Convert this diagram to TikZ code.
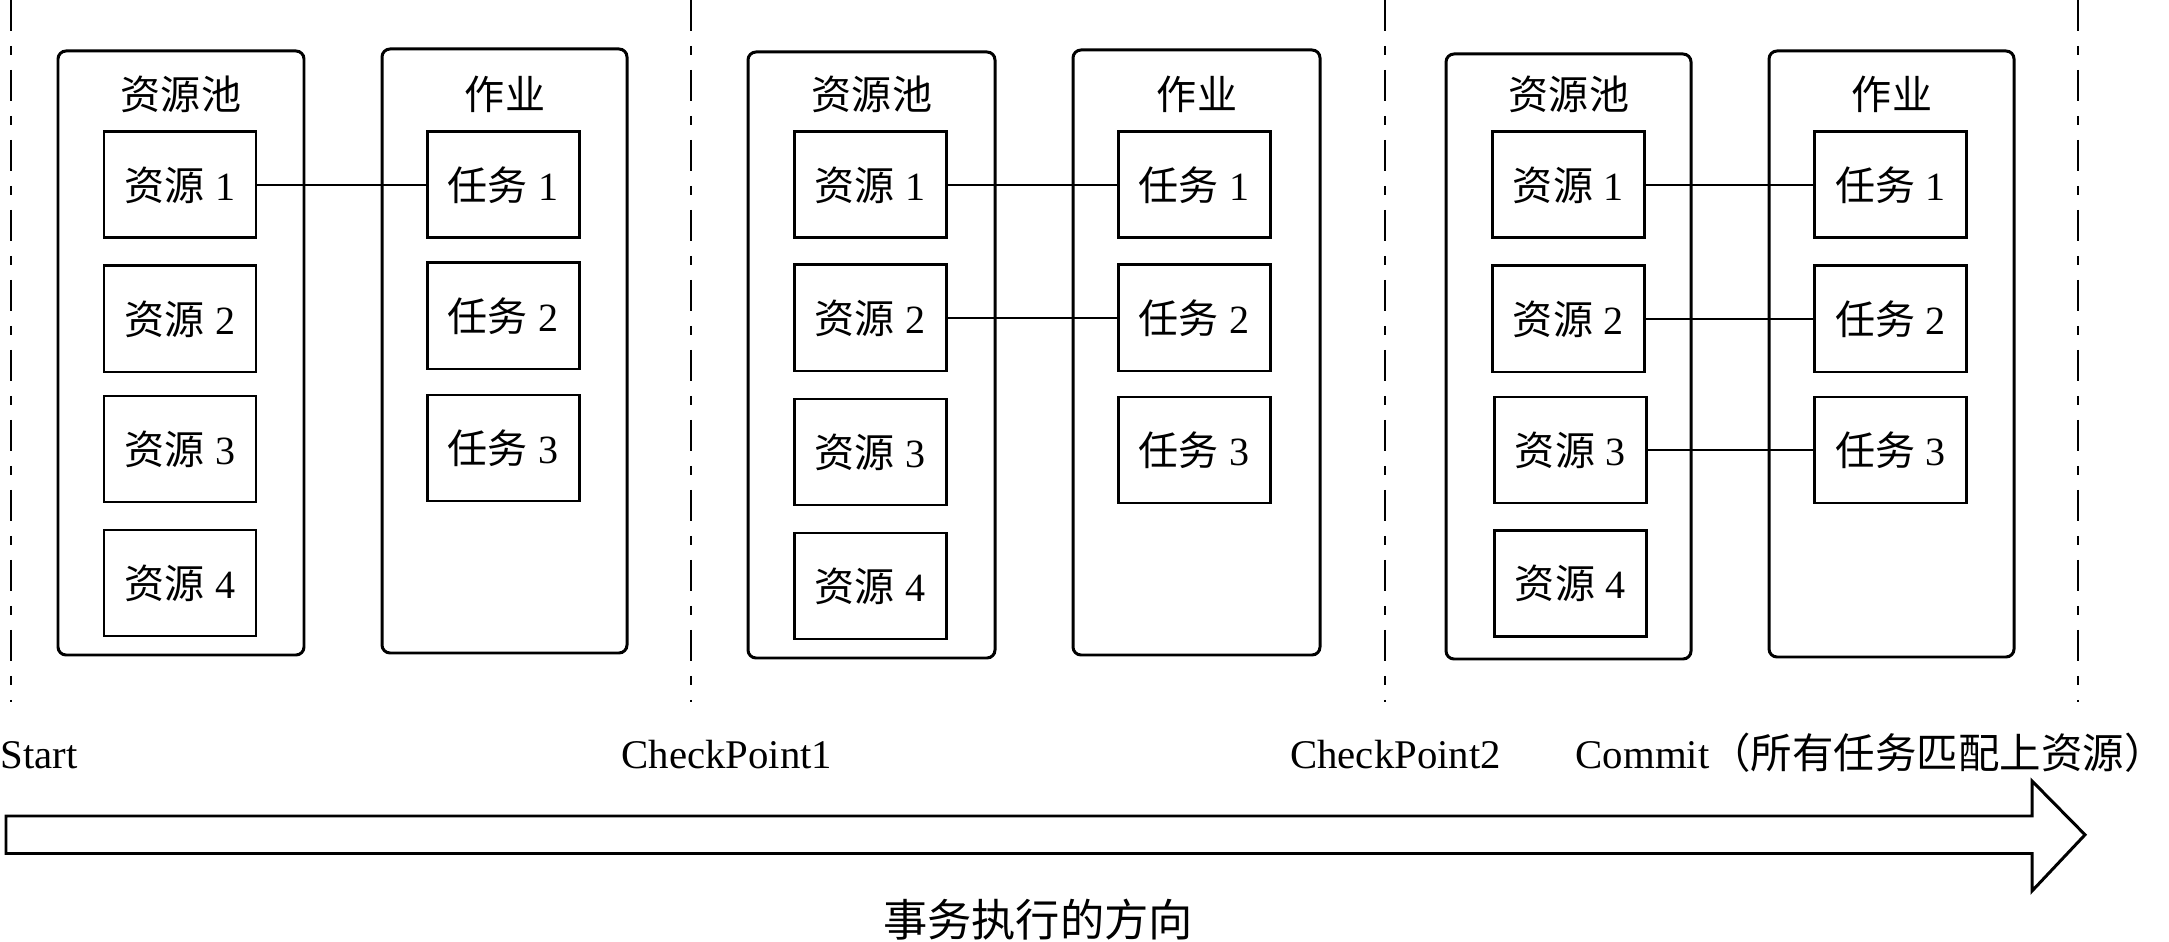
\documentclass[tikz,border=0pt]{standalone}
\usepackage{fontspec}
\setmainfont{Liberation Serif}
\newfontfamily\cjk{Noto Sans CJK SC}

\tikzset{
    box/.style={draw, line width=0.85pt, minimum width=1.52cm, minimum height=1.06cm, inner sep=0pt, font=\fontsize{11.4}{13}\selectfont},
    pool/.style={draw, line width=0.85pt, rounded corners=0.08cm},
    title/.style={inner sep=0pt, font=\fontsize{11.4}{13}\selectfont},
    link/.style={line width=0.6pt},
    cutline/.style={line width=0.6pt, dash pattern=on 0.31cm off 0.15cm on 0.09cm off 0.15cm},
    tag/.style={inner sep=0pt, font=\fontsize{11.6}{13}\selectfont}
}

\begin{document}
\begin{tikzpicture}
        \useasboundingbox (0,0) rectangle (21.69,9.41);

        \coordinate (CT0) at (0.11,9.41);
        \coordinate (CB0) at (0.11,2.39);
        \draw[cutline] (CT0) -- (CB0);
        \coordinate (CT1) at (6.91,9.41);
        \coordinate (CB1) at (6.91,2.39);
        \draw[cutline] (CT1) -- (CB1);
        \coordinate (CT2) at (13.85,9.41);
        \coordinate (CB2) at (13.85,2.39);
        \draw[cutline] (CT2) -- (CB2);
        \coordinate (CT3) at (20.78,9.41);
        \coordinate (CB3) at (20.78,2.39);
        \draw[cutline] (CT3) -- (CB3);

        % Start
        \coordinate (PB1) at (0.58,2.86);
        \coordinate (PT1) at (3.04,8.90);
        \draw[pool] (PB1) rectangle (PT1);
        \coordinate (JB1) at (3.82,2.88);
        \coordinate (JT1) at (6.27,8.92);
        \draw[pool] (JB1) rectangle (JT1);
        \node[title] (P1) at (1.81,8.47) {\cjk 资源池};
        \node[title] (J1) at (5.05,8.47) {\cjk 作业};
        \node[box] (R11) at (1.80,7.56) {{\cjk 资源} 1};
        \node[box] (R12) at (1.80,6.22) {{\cjk 资源} 2};
        \node[box] (R13) at (1.80,4.92) {{\cjk 资源} 3};
        \node[box] (R14) at (1.80,3.58) {{\cjk 资源} 4};
        \node[box] (T11) at (5.03,7.56) {{\cjk 任务} 1};
        \node[box] (T12) at (5.03,6.25) {{\cjk 任务} 2};
        \node[box] (T13) at (5.03,4.93) {{\cjk 任务} 3};
        \draw[link] (R11) -- (T11);

        % CheckPoint1
        \coordinate (PB2) at (7.48,2.83);
        \coordinate (PT2) at (9.95,8.89);
        \draw[pool] (PB2) rectangle (PT2);
        \coordinate (JB2) at (10.73,2.86);
        \coordinate (JT2) at (13.20,8.91);
        \draw[pool] (JB2) rectangle (JT2);
        \node[title] (P2) at (8.72,8.47) {\cjk 资源池};
        \node[title] (J2) at (11.97,8.47) {\cjk 作业};
        \node[box] (R21) at (8.70,7.56) {{\cjk 资源} 1};
        \node[box] (R22) at (8.70,6.23) {{\cjk 资源} 2};
        \node[box] (R23) at (8.70,4.89) {{\cjk 资源} 3};
        \node[box] (R24) at (8.70,3.55) {{\cjk 资源} 4};
        \node[box] (T21) at (11.94,7.56) {{\cjk 任务} 1};
        \node[box] (T22) at (11.94,6.23) {{\cjk 任务} 2};
        \node[box] (T23) at (11.94,4.91) {{\cjk 任务} 3};
        \draw[link] (R21) -- (T21);
        \draw[link] (R22) -- (T22);

        % CheckPoint2
        \coordinate (PB3) at (14.46,2.82);
        \coordinate (PT3) at (16.91,8.87);
        \draw[pool] (PB3) rectangle (PT3);
        \coordinate (JB3) at (17.69,2.84);
        \coordinate (JT3) at (20.14,8.90);
        \draw[pool] (JB3) rectangle (JT3);
        \node[title] (P3) at (15.69,8.47) {\cjk 资源池};
        \node[title] (J3) at (18.92,8.47) {\cjk 作业};
        \node[box] (R31) at (15.68,7.56) {{\cjk 资源} 1};
        \node[box] (R32) at (15.68,6.22) {{\cjk 资源} 2};
        \node[box] (R33) at (15.70,4.91) {{\cjk 资源} 3};
        \node[box] (R34) at (15.70,3.575) {{\cjk 资源} 4};
        \node[box] (T31) at (18.905,7.56) {{\cjk 任务} 1};
        \node[box] (T32) at (18.905,6.22) {{\cjk 任务} 2};
        \node[box] (T33) at (18.905,4.91) {{\cjk 任务} 3};
        \draw[link] (R31) -- (T31);
        \draw[link] (R32) -- (T32);
        \draw[link] (R33) -- (T33);

        \node[tag, anchor=base west] (S0) at (0,1.73) {Start};
        \node[tag, anchor=base west] (S1) at (6.21,1.73) {CheckPoint1};
        \node[tag, anchor=base west] (S2) at (12.895,1.73) {CheckPoint2};
        \node[tag, anchor=base west] (S3) at (15.75,1.73) {Commit{\fontsize{11.8}{13}\selectfont\cjk （所有任务匹配上资源）}};

        \coordinate (AL) at (0.06,1.25);
        \coordinate (AT) at (20.85,1.0625);
        \draw[line width=0.85pt] (AL) -- (20.32,1.25) -- (20.32,1.60) -- (AT)
            -- (20.32,0.50) -- (20.32,0.875) -- (0.06,0.875) -- cycle;
        \node[font=\fontsize{12.6}{15}\selectfont] (D) at (10.38,0.21) {\cjk 事务执行的方向};
    \end{tikzpicture}
\end{document}
